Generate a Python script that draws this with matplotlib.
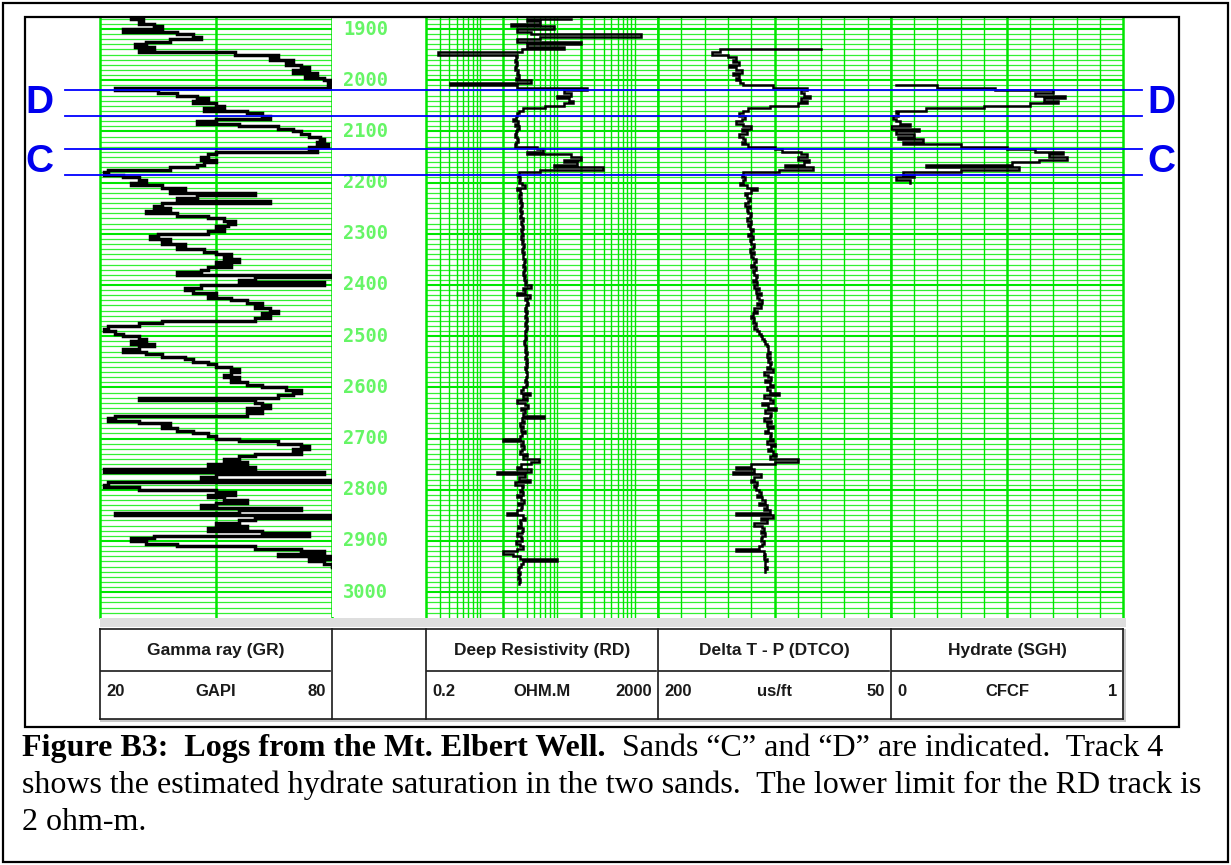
import numpy as np
import matplotlib
matplotlib.use("Agg")
from matplotlib import pyplot as plt
from matplotlib import transforms
from matplotlib.lines import Line2D
from matplotlib.patches import Rectangle
from matplotlib.ticker import NullLocator

W, H = 1231, 865
STEP = 5  # ft between samples

# Gamma ray, GAPI, every 5 ft from 1880 ft
gr_top = 1880
gr = [28, 31, 30, 34, 36, 26, 40, 44, 46, 38, 32, 29, 34, 30, 55, 66, 64, 70, 68, 72,
      74, 70, 76, 73, 78, 80, 79, 80, 24, 35, 40, 45, 48, 44, 50, 52, 47, 58, 62, 64,
      50, 45, 56, 66, 70, 72, 74, 77, 78, 76, 79, 74, 76, 50, 48, 46, 50, 47, 45, 38,
      22, 21, 26, 30, 32, 28, 36, 42, 38, 60, 45, 40, 64, 36, 34, 38, 32, 40, 48, 52,
      55, 53, 50, 52, 48, 35, 33, 38, 36, 42, 40, 47, 50, 54, 52, 56, 50, 54, 48, 46,
      40, 80, 60, 56, 78, 46, 42, 44, 50, 48, 54, 58, 62, 60, 64, 66, 62, 64, 60, 36,
      30, 22, 21, 24, 26, 30, 32, 28, 34, 30, 26, 32, 36, 42, 44, 48, 50, 54, 56, 54,
      52, 56, 54, 58, 62, 68, 72, 70, 66, 30, 60, 62, 64, 58, 62, 58, 24, 22, 30, 38,
      36, 40, 44, 48, 50, 56, 66, 72, 74, 70, 72, 60, 56, 52, 58, 48, 60, 21, 78, 50,
      46, 80, 22, 21, 30, 50, 55, 48, 52, 58, 50, 46, 72, 56, 24, 80, 60, 56, 50, 58,
      48, 62, 74, 34, 28, 32, 40, 60, 72, 78, 66, 80, 74, 78, 80]

# Deep resistivity, ohm-m, every 5 ft from 1880 ft
rd_top = 1880
rd = [150, 40, 60, 25, 90, 30, 45, 1200, 60, 30, 200, 40, 120, 35, 2.9, 30, 29, 28, 30, 29,
      28, 31, 30, 32, 29, 45, 4.1, 30, 240, 120, 150, 100, 140, 160, 120, 70, 36, 32, 30, 29,
      27, 31, 28, 32, 30, 29, 28, 30, 31, 29, 28, 55, 65, 40, 150, 200, 120, 180, 90, 390,
      60, 32, 31, 33, 32, 35, 38, 30, 33, 34, 32, 34, 33, 35, 34, 33, 35, 34, 33, 36,
      34, 35, 36, 34, 35, 36, 34, 36, 35, 37, 36, 35, 37, 36, 36, 38, 37, 36, 38, 37,
      36, 38, 37, 39, 38, 45, 36, 38, 30, 44, 38, 40, 42, 39, 38, 40, 39, 38, 40, 39,
      38, 40, 39, 38, 38, 39, 38, 37, 38, 39, 38, 40, 39, 38, 40, 39, 40, 38, 39, 40,
      40, 39, 38, 40, 39, 36, 34, 44, 36, 40, 30, 38, 42, 34, 38, 36, 67, 35, 37, 33,
      36, 34, 38, 35, 33, 20, 36, 34, 37, 35, 33, 40, 36, 58, 45, 34, 30, 45, 16.5, 38,
      32, 44, 28, 36, 35, 33, 36, 30, 34, 37, 31, 35, 34, 30, 22, 36, 38, 33, 34, 31,
      36, 35, 30, 34, 35, 29, 33, 36, 30, 20, 27, 33, 98, 36, 34, 32, 31, 33, 32, 31,
      33, 32]

# Compressional slowness, us/ft, every 5 ft from 1940 ft
dt_top = 1940
dt = [95, 160, 165, 155, 150, 152, 148, 154, 150, 146, 152, 148, 150, 147, 145, 126, 104, 108, 106, 102,
      108, 104, 110, 128, 142, 145, 148, 144, 146, 150, 145, 140, 146, 143, 148, 145, 144, 146, 142, 125,
      120, 108, 104, 110, 103, 106, 118, 100, 122, 145, 146, 144, 145, 147, 143, 136, 140, 144, 143, 141,
      142, 144, 141, 143, 142, 140, 141, 143, 140, 142, 141, 139, 140, 142, 139, 141, 140, 138, 139, 141,
      138, 140, 139, 137, 138, 140, 137, 139, 138, 136, 137, 139, 136, 138, 135, 137, 134, 136, 135, 133,
      136, 134, 138, 136, 139, 140, 138, 139, 137, 138, 136, 135, 134, 133, 132, 131, 130, 129, 129, 128,
      130, 128, 129, 127, 128, 130, 126, 132, 129, 127, 131, 128, 126, 130, 128, 122, 132, 128, 126, 133,
      129, 124, 131, 127, 128, 132, 127, 130, 126, 129, 131, 127, 128, 126, 130, 125, 127, 129, 126, 124,
      128, 110, 125, 140, 150, 138, 152, 134, 138, 140, 136, 138, 137, 135, 134, 136, 133, 131, 135, 130,
      132, 128, 150, 126, 134, 130, 138, 133, 132, 134, 131, 133, 134, 132, 133, 135, 150, 132, 131, 132,
      130, 131, 131, 130, 131]

# Hydrate saturation, fraction, every 5 ft from 2010 ft
sgh_top = 2010
sgh = [0.02, 0.2, 0.45, 0.7, 0.62, 0.75, 0.66, 0.72, 0.6, 0.4, 0.15, 0.02, 0.03, 0.01, 0.02, 0.04,
       0.08, 0.0, 0.12, 0.02, 0.1, 0.03, 0.14, 0.05, 0.3, 0.5, 0.62, 0.74, 0.68, 0.76, 0.64, 0.52,
       0.15, 0.55, 0.3, 0.05, 0.1, 0.02, 0.08]

sand_names = ["D", "C"]
sand_tops = [2019, 2134]
sand_bases = [2070, 2185]

depth_labels = list(range(1900, 3001, 100))
track_titles = ["Gamma ray (GR)", "", "Deep Resistivity (RD)", "Delta T - P (DTCO)", "Hydrate (SGH)"]
track_units = [("20", "GAPI", "80"), None, ("0.2", "OHM.M", "2000"),
               ("200", "us/ft", "50"), ("0", "CFCF", "1")]

depth_min, depth_max = 1878.5, 3048.5

GREEN = '#00e600'
THIN = '#33f033'
LABEL_GREEN = '#66f566'

# column edges in pixels
cols = [100, 332, 426, 658, 891, 1123]
grid_top, grid_bot = 18, 617

fig = plt.figure(figsize=(W / 100, H / 100), dpi=100)


def px_axes(x0, y0, x1, y1, **kw):
    return fig.add_axes([x0 / W, 1 - y1 / H, (x1 - x0) / W, (y1 - y0) / H], **kw)


def setup_track(ax, hlines=True):
    ax.set_ylim(depth_max, depth_min)
    for s in ax.spines.values():
        s.set_visible(False)
    if hlines:
        for d in np.arange(1880, 3050, 10):
            heavy = d % 100 == 0
            ax.axhline(d, color=GREEN if heavy else THIN, lw=1.5 if heavy else 0.9, zorder=1)


def clear_ticks(ax):
    ax.xaxis.set_major_locator(NullLocator())
    ax.xaxis.set_minor_locator(NullLocator())
    ax.yaxis.set_major_locator(NullLocator())
    ax.yaxis.set_minor_locator(NullLocator())


def depths(top, vals):
    return top + STEP * np.arange(len(vals))


CURVE = dict(color='k', lw=1.8, drawstyle='steps-post', zorder=3, solid_joinstyle='miter')

# gamma ray track
ax_gr = px_axes(cols[0], grid_top, cols[1], grid_bot)
setup_track(ax_gr)
ax_gr.set_xlim(20, 80)
for v in [20, 50, 80]:
    ax_gr.axvline(v, color=GREEN, lw=1.8, zorder=2, clip_on=False)
ax_gr.plot(gr, depths(gr_top, gr), **{**CURVE, 'lw': 2.5})
clear_ticks(ax_gr)

# depth track
ax_dp = px_axes(cols[1], grid_top, cols[2], grid_bot)
setup_track(ax_dp, hlines=False)
ax_dp.set_xlim(0, 1)
for d in depth_labels:
    ax_dp.text(0.12, d, str(d), color=LABEL_GREEN, fontsize=13.5, fontweight='bold',
               family='DejaVu Sans Mono', ha='left', va='center')
clear_ticks(ax_dp)

# resistivity track
ax_rd = px_axes(cols[2], grid_top, cols[3], grid_bot)
setup_track(ax_rd)
ax_rd.set_xscale('log')
ax_rd.set_xlim(2, 2000)
for dec in [1, 10, 100, 1000]:
    for k in range(2, 11):
        v = k * dec
        if v > 2000:
            continue
        heavy = v in (2, 20, 200, 2000)
        ax_rd.axvline(v, color=GREEN, lw=1.8 if heavy else 1.0, zorder=2, clip_on=False)
ax_rd.plot(rd, depths(rd_top, rd), **CURVE)
clear_ticks(ax_rd)

# sonic track
ax_dt = px_axes(cols[3], grid_top, cols[4], grid_bot)
setup_track(ax_dt)
ax_dt.set_xlim(200, 50)
for i in range(11):
    v = 200 - 15 * i
    ax_dt.axvline(v, color=GREEN, lw=1.8 if i % 5 == 0 else 1.0, zorder=2, clip_on=False)
ax_dt.plot(dt, depths(dt_top, dt), **CURVE)
clear_ticks(ax_dt)

# hydrate track
ax_sg = px_axes(cols[4], grid_top, cols[5], grid_bot)
setup_track(ax_sg)
ax_sg.set_xlim(0, 1)
for i in range(11):
    ax_sg.axvline(i / 10, color=GREEN, lw=1.8 if i % 5 == 0 else 1.0, zorder=2, clip_on=False)
ax_sg.plot(sgh, depths(sgh_top, sgh), **CURVE)
clear_ticks(ax_sg)

# sand markers across all tracks
blend = transforms.blended_transform_factory(fig.transFigure, ax_gr.transData)
for name, top, base in zip(sand_names, sand_tops, sand_bases):
    for d in (top, base):
        fig.add_artist(Line2D([65 / W, 1142 / W], [d, d], transform=blend,
                              color='#0000ff', lw=1.3, zorder=10))
    mid = (top + base) / 2
    for xc in (39, 1161):
        fig.text(xc / W, mid, name, transform=blend, color='#0000ee', fontsize=28,
                 fontweight='bold', family='Liberation Sans', ha='center', va='center')

# overlay in pixel coordinates for frames, header table and caption
ov = fig.add_axes([0, 0, 1, 1], zorder=20)
ov.set_xlim(0, W)
ov.set_ylim(H, 0)
ov.axis('off')
ov.patch.set_alpha(0)

ov.add_patch(Rectangle((3, 3), W - 6, H - 6, fill=False, ec='k', lw=1.6))
ov.add_patch(Rectangle((25, 17), 1179 - 25, 727 - 17, fill=False, ec='k', lw=1.6))

# grey bar under the grid and table shadow
ov.add_patch(Rectangle((cols[0], 618), cols[-1] - cols[0] + 3, 9, color='#dedede', lw=0))
ov.add_patch(Rectangle((cols[-1], 629), 3, 93, color='#c8c8c8', lw=0))
ov.add_patch(Rectangle((cols[0], 719), cols[-1] - cols[0] + 3, 3, color='#c8c8c8', lw=0))

tkw = dict(color='#1a1a1a', lw=1.2)
ov.plot([cols[0], cols[-1]], [629, 629], **tkw)
ov.plot([cols[0], cols[-1]], [719, 719], **tkw)
for x in cols:
    ov.plot([x, x], [629, 719], **tkw)
hkw = dict(family='Liberation Sans', fontweight='bold', color='#1a1a1a', va='center')
for i, title in enumerate(track_titles):
    x0, x1 = cols[i], cols[i + 1]
    if track_units[i] is None:
        continue
    ov.plot([x0 + 1, x1 - 2], [671, 671], **tkw)
    ov.text((x0 + x1) / 2, 650, title, ha='center', fontsize=12.5, **hkw)
    lo, unit, hi = track_units[i]
    ov.text(x0 + 6, 692, lo, ha='left', fontsize=12, **hkw)
    ov.text((x0 + x1) / 2, 692, unit, ha='center', fontsize=12, **hkw)
    ov.text(x1 - 6, 692, hi, ha='right', fontsize=12, **hkw)

# caption
ckw = dict(family='Liberation Serif', fontsize=23, color='k', va='baseline', ha='left')
t1 = ov.text(22, 756, "Figure B3:  Logs from the Mt. Elbert Well.", fontweight='bold', **ckw)
fig.canvas.draw()
bb = t1.get_window_extent()
x_end = ov.transData.inverted().transform((bb.x1, bb.y0))[0]
ov.text(x_end, 756, "  Sands \u201cC\u201d and \u201cD\u201d are indicated.  Track 4", **ckw)
ov.text(22, 793, "shows the estimated hydrate saturation in the two sands.  "
        "The lower limit for the RD track is", **ckw)
ov.text(22, 830, "2 ohm-m.", **ckw)

fig.savefig("out.png", dpi=100, facecolor='white')
